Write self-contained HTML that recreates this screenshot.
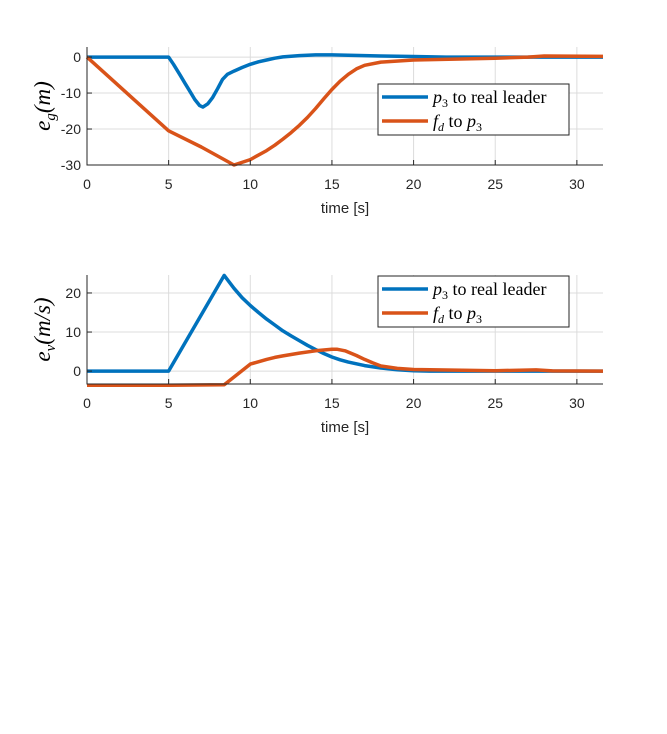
<!DOCTYPE html>
<html><head><meta charset="utf-8"><style>
body{margin:0;background:#fff;}
svg{display:block;font-family:"Liberation Sans",sans-serif;}
.tick{font-size:14px;fill:#262626;}
.grid{stroke:#dcdcdc;stroke-width:1;}
.ax{stroke:#262626;stroke-width:1;fill:none;}
.leg{font-family:"Liberation Serif",serif;font-size:18px;fill:#000;}
</style></head><body>
<svg id="chart" width="667" height="734" xmlns="http://www.w3.org/2000/svg"></svg>
<script>
const xTicks=[0,5,10,15,20,25,30];
const t1=[0,5,5.3,5.7,6,6.3,6.6,6.9,7.1,7.4,7.7,8,8.3,8.6,9,9.5,10,10.5,11,11.5,12,13,14,15,16,18,20,22,25,28,31.6];
const blueG=[0,0,-2,-5,-7.3,-9.5,-11.8,-13.5,-13.9,-13,-11.2,-8.8,-6.2,-4.8,-3.9,-2.9,-2,-1.3,-0.8,-0.3,0.05,0.4,0.6,0.6,0.5,0.3,0.15,0,0,0,0];
const t2=[0,5,7,9,10,11,11.5,12,12.5,13,13.5,14,14.5,15,15.5,16,16.5,17,18,20,25,27,28,31.6];
const orangeG=[0,-20.5,-25,-30,-28.5,-26,-24.5,-22.8,-21,-19,-16.8,-14.3,-11.6,-9,-6.7,-4.8,-3.3,-2.3,-1.4,-0.8,-0.3,0,0.3,0.2];
const yTicksG=[0,-10,-20,-30];
const t3=[0,5,8.4,9,9.5,10,10.5,11,11.5,12,12.5,13,13.5,14,14.5,15,15.5,16,17,18,19,20,21,25,31.6];
const blueV=[0,0,24.5,21.2,18.8,16.8,15,13.3,11.8,10.3,9,7.8,6.6,5.5,4.5,3.6,2.9,2.3,1.4,0.8,0.35,0.1,0,0,0];
const t4=[0,5,8.4,10,11,11.5,12,13,14,15,15.3,15.8,16.5,17,17.5,18,19,20,25,27.5,28.5,31.6];
const orangeV=[-3.6,-3.6,-3.5,1.8,3,3.5,3.9,4.6,5.2,5.6,5.6,5.2,4,3,2.1,1.3,0.7,0.4,0.1,0.3,0.05,0];
const yTicksV=[0,10,20];
const NS="http://www.w3.org/2000/svg";
const svg=document.getElementById('chart');
function mk(tag,attrs,parent){const e=document.createElementNS(NS,tag);for(const k in attrs)e.setAttribute(k,attrs[k]);(parent||svg).appendChild(e);return e;}
function panel(name,yTop,yBot,ymin,ymax,yTicks,series,legY,ylabelMain,ylabelSub,ylabelRest){
  const x0=87,x1=603,xmax=31.6;
  const X=v=>x0+(v/xmax)*(x1-x0);
  const Y=v=>yBot-(v-ymin)/(ymax-ymin)*(yBot-yTop);
  const g=mk('g',{});
  
  
  xTicks.forEach(v=>{const l=mk('line',{x1:X(v),x2:X(v),y1:yTop,y2:yBot,class:'grid'},g);});
  yTicks.forEach(v=>{const l=mk('line',{x1:x0,x2:x1,y1:Y(v),y2:Y(v),class:'grid'},g);});
  series.forEach(s=>{
    const d=s.t.map((tv,i)=>(i?'L':'M')+X(tv).toFixed(1)+' '+Y(s.v[i]).toFixed(1)).join(' ');
    const p=mk('path',{d:d,stroke:s.c,'stroke-width':3.5,fill:'none','stroke-linejoin':'round'},g);
    
    
  });
  const ax=mk('path',{d:`M${x0} ${yTop} L${x0} ${yBot} L${x1} ${yBot}`,class:'ax'},g);
  
  
  xTicks.forEach(v=>{
    mk('line',{x1:X(v),x2:X(v),y1:yBot,y2:yBot-5,class:'ax'},g);
    const t=mk('text',{x:X(v),y:yBot+24,'text-anchor':'middle',class:'tick'},g);t.textContent=v;
    
  });
  yTicks.forEach(v=>{
    mk('line',{x1:x0,x2:x0+5,y1:Y(v),y2:Y(v),class:'ax'},g);
    const t=mk('text',{x:x0-6,y:Y(v)+5,'text-anchor':'end',class:'tick'},g);t.textContent=v;
    
  });
  const xt=mk('text',{x:345,y:yBot+48,'text-anchor':'middle',class:'tick',style:'font-size:15px'},g);
  xt.textContent='time [s]';
  const yc=(yTop+yBot)/2;
  const yl=mk('text',{x:0,y:0,transform:`translate(50 ${yc}) rotate(-90)`,'text-anchor':'middle',style:'font-family:"Liberation Serif",serif;font-size:23px;font-style:italic'},g);
  
  yl.innerHTML=`${ylabelMain}<tspan dy="5" style="font-size:15px">${ylabelSub}</tspan><tspan dy="-5">${ylabelRest}</tspan>`;
  const lg=mk('g',{},g);
  mk('rect',{x:378,y:legY,width:191,height:51,fill:'#fff',stroke:'#262626','stroke-width':1},lg);
  mk('line',{x1:382,x2:428,y1:legY+13,y2:legY+13,stroke:'#0072BD','stroke-width':3.5},lg);
  mk('line',{x1:382,x2:428,y1:legY+37,y2:legY+37,stroke:'#D95319','stroke-width':3.5},lg);
  const a=mk('text',{x:433,y:legY+19,class:'leg'},lg);a.innerHTML='<tspan font-style="italic">p</tspan><tspan dy="4" font-size="12">3</tspan><tspan dy="-4"> to real leader</tspan>';
  
  const b=mk('text',{x:433,y:legY+43,class:'leg'},lg);b.innerHTML='<tspan font-style="italic">f</tspan><tspan dy="4" font-size="12" font-style="italic">d</tspan><tspan dy="-4"> to </tspan><tspan font-style="italic">p</tspan><tspan dy="4" font-size="12">3</tspan>';
  
}
panel('position-error-plot',47,165,-30,2.8,yTicksG,[{t:t1,v:blueG,c:'#0072BD',n:'blue-line-eg'},{t:t2,v:orangeG,c:'#D95319',n:'orange-line-eg'}],84,'e','g','(m)');
panel('velocity-error-plot',275,384,-3.3,24.6,yTicksV,[{t:t3,v:blueV,c:'#0072BD',n:'blue-line-ev'},{t:t4,v:orangeV,c:'#D95319',n:'orange-line-ev'}],276,'e','v','(m/s)');
</script>
</body></html>
